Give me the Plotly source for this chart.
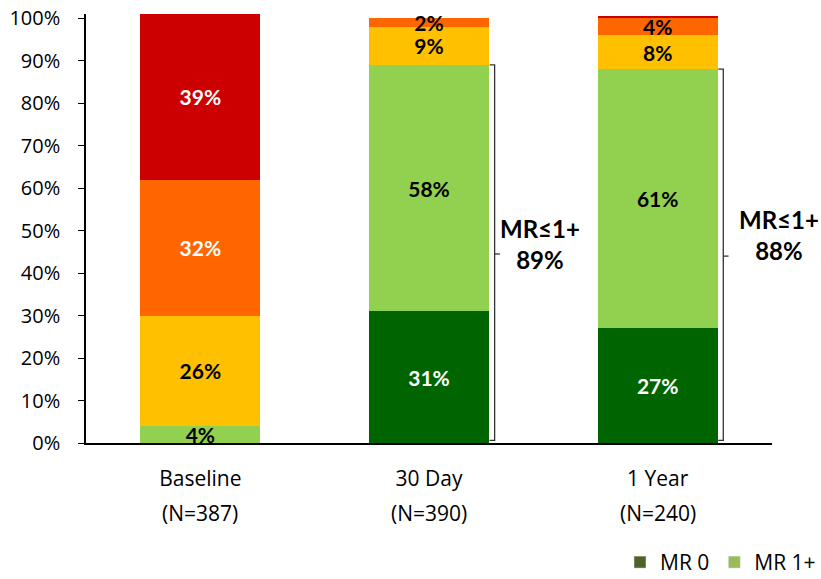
import plotly.graph_objects as go

categories = ["Baseline", "30 Day", "1 Year"]
sample_sizes = ["(N=387)", "(N=390)", "(N=240)"]

mr0 = [0, 31, 27]
mr1 = [4, 58, 61]
mr2 = [26, 9, 8]
mr3 = [32, 2, 4]
mr4 = [39, 0, 0.5]

y_ticks = list(range(0, 101, 10))
y_tick_labels = [f"{t}%" for t in y_ticks]

# "MR <= 1+" totals shown beside the follow-up bars
mr_le1_totals = {"30 Day": 89, "1 Year": 88}

series = [
    ("MR 0", mr0, "#006400", "white"),
    ("MR 1+", mr1, "#92D050", "black"),
    ("MR 2+", mr2, "#FFC000", "black"),
    ("MR 3+", mr3, "#FF6600", "white"),
    ("MR 4+", mr4, "#CC0000", "white"),
]
# the thin 3+ bands of the follow-up bars carry dark labels
label_colors = {
    "MR 3+": ["white", "black", "black"],
}
legend_colors = {"MR 0": "#4F6228", "MR 1+": "#9BBB59"}

FONT = "Open Sans"
LABEL_FONT = "Lato"

fig = go.Figure()
x_idx = list(range(len(categories)))

for name, vals, color, tcol in series:
    texts = [f"{v:g}%" if v >= 1 else "" for v in vals]
    tcolors = label_colors.get(name, [tcol] * len(vals))
    fig.add_trace(go.Bar(
        x=x_idx, y=vals, name=name, marker_color=color,
        marker_line_width=0, width=0.524,
        text=texts, textposition="inside", insidetextanchor="middle",
        textangle=0, constraintext="none",
        textfont=dict(family=LABEL_FONT, size=21, color=tcolors, weight="bold"),
        showlegend=False, hoverinfo="skip",
    ))

# legend entries
for name, col in legend_colors.items():
    fig.add_trace(go.Bar(x=x_idx, y=[None] * 3, name=name, marker_color=col,
                         showlegend=True))

shapes = []
annotations = []
text_shift = {"30 Day": (45, 10), "1 Year": (56, 21)}
for cat, total in mr_le1_totals.items():
    i = categories.index(cat)
    xb = i + 0.287
    line = dict(color="#333333", width=1.3)
    # bracket spanning MR 0 + MR 1+
    shapes.append(dict(type="path", xref="x", yref="y",
                       path=f"M {i + 0.265} {total} L {xb} {total} L {xb} 0.6 L {i + 0.265} 0.6",
                       line=line))
    shapes.append(dict(type="line", xref="x", yref="y",
                       x0=xb, x1=i + 0.31, y0=total / 2, y1=total / 2, line=line))
    dx, dy = text_shift[cat]
    annotations.append(dict(
        x=xb, y=total / 2, xref="x", yref="y", xshift=dx, yshift=dy,
        text=f"MR≤1+<br>{total}%", showarrow=False,
        font=dict(family=LABEL_FONT, size=24, color="black", weight="bold"),
        align="center",
    ))

# second line of category labels
for i, n in enumerate(sample_sizes):
    annotations.append(dict(
        x=i, y=0, xref="x", yref="paper", yanchor="top", yshift=-54,
        text=n, showarrow=False,
        font=dict(family=FONT, size=21, color="black"),
    ))

fig.update_layout(
    barmode="stack",
    width=821, height=579,
    margin=dict(l=85.5, r=48.5, t=14, b=136),
    paper_bgcolor="white", plot_bgcolor="white",
    font=dict(family=FONT, size=19, color="black"),
    shapes=shapes,
    annotations=annotations,
    legend=dict(orientation="h", xref="container", yref="container",
                x=1.0, xanchor="right", y=0.064, yanchor="top",
                font=dict(family=FONT, size=21), traceorder="normal",
                itemwidth=30),
    xaxis=dict(
        tickvals=x_idx, ticktext=categories, range=[-0.5, 2.5],
        showline=True, linecolor="black", linewidth=1.5,
        ticks="", showgrid=False, zeroline=False, automargin=False,
        tickfont=dict(family=FONT, size=21), ticklabelstandoff=16,
    ),
    yaxis=dict(
        range=[0, 101], tickvals=y_ticks, ticktext=y_tick_labels,
        showline=True, linecolor="black", linewidth=1.5,
        ticks="outside", ticklen=6, tickcolor="black",
        showgrid=False, zeroline=False, automargin=False,
        tickfont=dict(family=FONT, size=20), ticklabelstandoff=14,
    ),
)

fig.write_html("out.html")
